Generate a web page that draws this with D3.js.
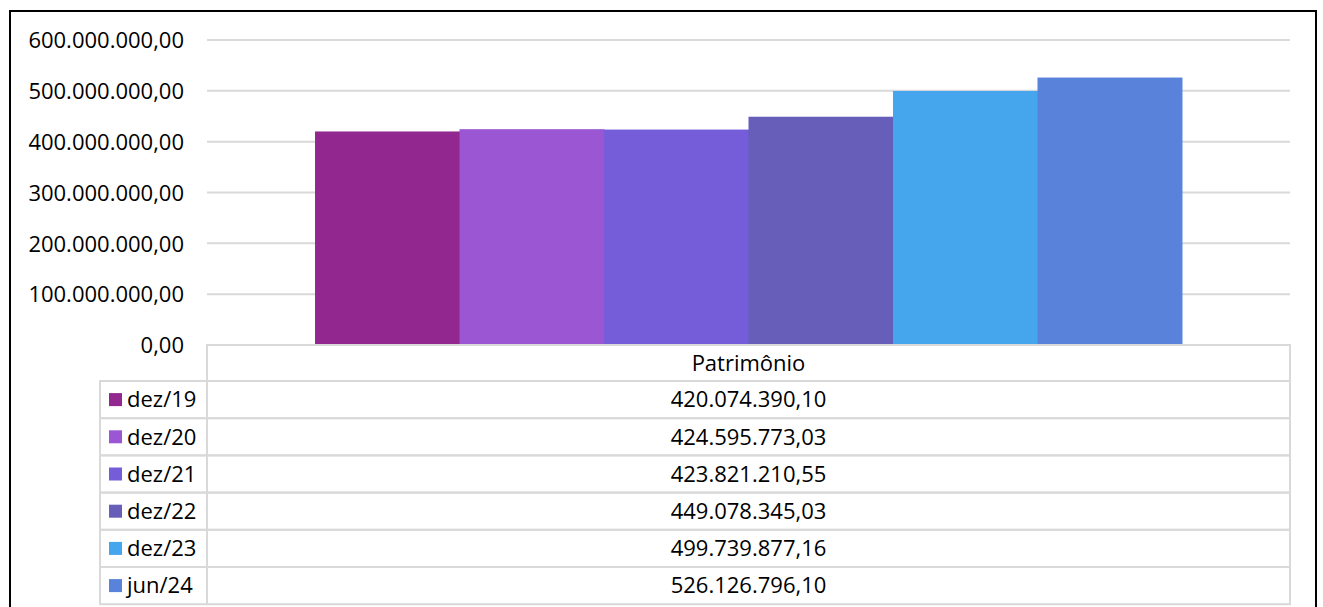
<!DOCTYPE html>
<html><head><meta charset="utf-8">
<script src="https://cdn.jsdelivr.net/npm/d3@7"></script>
<style>
html,body{margin:0;padding:0;background:#fff;}
svg{display:block;}
text{font-family:"Open Sans","Noto Sans",sans-serif;fill:#000;}
</style></head>
<body>
<svg id="chart" width="1323" height="607"></svg>
<script>
const categories = ["Patrimônio"];
const seriesNames = ["dez/19","dez/20","dez/21","dez/22","dez/23","jun/24"];
const seriesValues = [420074390.10, 424595773.03, 423821210.55, 449078345.03, 499739877.16, 526126796.10];
const seriesLabels = ["420.074.390,10","424.595.773,03","423.821.210,55","449.078.345,03","499.739.877,16","526.126.796,10"];
const colors = ["#92278F","#9B57D3","#755DD9","#665EB8","#45A5ED","#5982DB"];
const yTicks = [0,100000000,200000000,300000000,400000000,500000000,600000000];
const yTickLabels = ["0,00","100.000.000,00","200.000.000,00","300.000.000,00","400.000.000,00","500.000.000,00","600.000.000,00"];

const FS = 22;
const svg = d3.select("#chart");
const plotL = 207, plotR = 1290, plotT = 40, plotB = 345;
const tableL = 100, rowH = 37.2;

// outer frame
svg.append("rect").attr("x",10).attr("y",11).attr("width",1306).attr("height",620)
  .attr("fill","none").attr("stroke","#000").attr("stroke-width",2);

const y = d3.scaleLinear().domain([0,600000000]).range([plotB, plotT]);
const x0 = d3.scaleBand().domain(categories).range([plotL, plotR]).paddingInner(0).paddingOuter(0.1246);
const x1 = d3.scaleBand().domain(seriesNames).range([0, x0.bandwidth()]).padding(0);

// gridlines
svg.append("g").selectAll("line").data(yTicks.filter(d=>d>0)).join("line")
  .attr("x1",plotL).attr("x2",plotR)
  .attr("y1",d=>y(d)).attr("y2",d=>y(d))
  .attr("stroke","#d9d9d9").attr("stroke-width",2);

// y axis via d3.axisLeft
const yAxis = d3.axisLeft(y).tickValues(yTicks).tickSize(0).tickPadding(0)
  .tickFormat((d,i)=>yTickLabels[i]);
const ga = svg.append("g").attr("transform",`translate(${184},0)`).call(yAxis);
ga.select(".domain").remove();
ga.selectAll("text").attr("font-size",FS).attr("font-family",'"Open Sans","Noto Sans",sans-serif').attr("fill","#000").attr("dy","0.35em");

// bars
const bars = svg.append("g");
categories.forEach(c=>{
  bars.selectAll("rect").data(seriesValues).join("rect")
    .attr("x",(d,i)=>x0(c)+x1(seriesNames[i]))
    .attr("width",x1.bandwidth()+0.5)
    .attr("y",d=>y(d)).attr("height",d=>plotB-y(d))
    .attr("fill",(d,i)=>colors[i]);
});

// data table
const tbl = svg.append("g");
const lineCol = "#d9d9d9";
const headerTop = plotB, headerBot = 381;
const rowTop = i => headerBot + i*rowH;
tbl.append("rect").attr("x",plotL).attr("y",headerTop).attr("width",plotR-plotL).attr("height",headerBot-headerTop)
  .attr("fill","none").attr("stroke",lineCol).attr("stroke-width",2);
tbl.append("text").attr("x",(plotL+plotR)/2).attr("y",(headerTop+headerBot)/2).attr("text-anchor","middle")
  .attr("dy","0.35em").attr("font-size",FS).text(categories[0]);
const rows = tbl.selectAll("g.row").data(seriesNames).join("g").attr("class","row");
rows.append("rect").attr("x",tableL).attr("y",(d,i)=>rowTop(i)).attr("width",plotL-tableL).attr("height",rowH)
  .attr("fill","none").attr("stroke",lineCol).attr("stroke-width",2);
rows.append("rect").attr("x",plotL).attr("y",(d,i)=>rowTop(i)).attr("width",plotR-plotL).attr("height",rowH)
  .attr("fill","none").attr("stroke",lineCol).attr("stroke-width",2);
rows.append("rect").attr("x",109).attr("y",(d,i)=>rowTop(i)+rowH/2-6.5).attr("width",13).attr("height",13)
  .attr("fill",(d,i)=>colors[i]);
rows.append("text").attr("x",127).attr("y",(d,i)=>rowTop(i)+rowH/2).attr("dy","0.35em")
  .attr("font-size",FS).text(d=>d);
rows.append("text").attr("x",(plotL+plotR)/2).attr("y",(d,i)=>rowTop(i)+rowH/2).attr("dy","0.35em")
  .attr("text-anchor","middle").attr("font-size",FS).text((d,i)=>seriesLabels[i]);
</script>
</body></html>
